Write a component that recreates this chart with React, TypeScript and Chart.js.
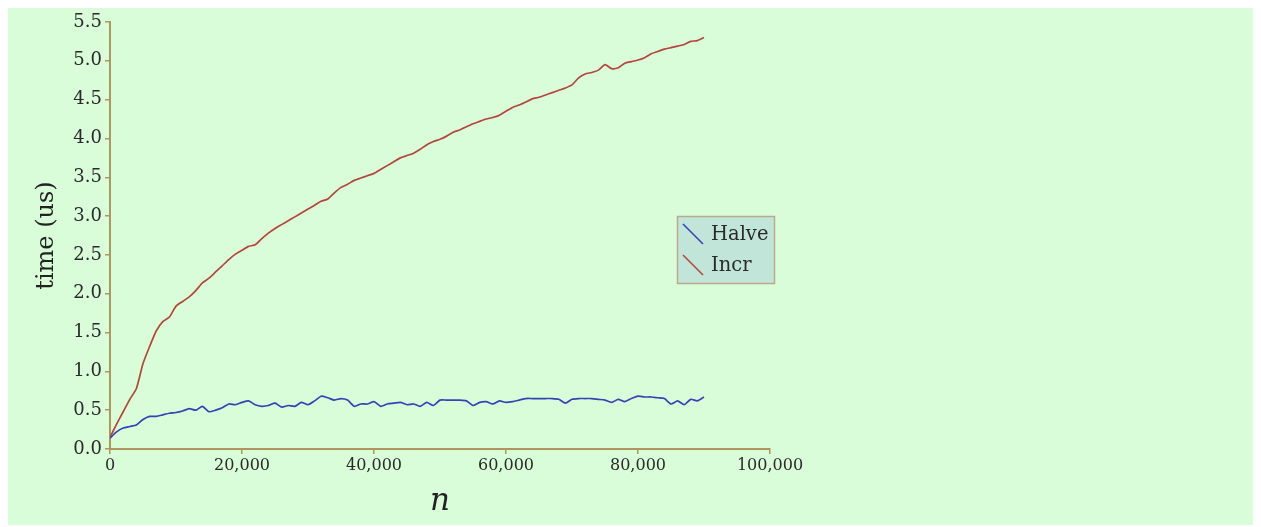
import React, { useEffect, useRef } from "react";
import { Chart, registerables } from "chart.js";

Chart.register(...registerables);

const nValues: number[] = [
  0, 1000, 2000, 3000, 4000, 5000, 6000, 7000, 8000, 9000,
  10000, 11000, 12000, 13000, 14000, 15000, 16000, 17000, 18000, 19000,
  20000, 21000, 22000, 23000, 24000, 25000, 26000, 27000, 28000, 29000,
  30000, 31000, 32000, 33000, 34000, 35000, 36000, 37000, 38000, 39000,
  40000, 41000, 42000, 43000, 44000, 45000, 46000, 47000, 48000, 49000,
  50000, 51000, 52000, 53000, 54000, 55000, 56000, 57000, 58000, 59000,
  60000, 61000, 62000, 63000, 64000, 65000, 66000, 67000, 68000, 69000,
  70000, 71000, 72000, 73000, 74000, 75000, 76000, 77000, 78000, 79000,
  80000, 81000, 82000, 83000, 84000, 85000, 86000, 87000, 88000, 89000,
  90000,
];

const halveTimes: number[] = [
  0.14, 0.22, 0.27, 0.29, 0.31, 0.38, 0.42, 0.42, 0.44, 0.46,
  0.47, 0.49, 0.52, 0.50, 0.55, 0.48, 0.50, 0.53, 0.58, 0.57,
  0.60, 0.62, 0.57, 0.55, 0.56, 0.59, 0.54, 0.56, 0.55, 0.60,
  0.57, 0.62, 0.68, 0.66, 0.63, 0.65, 0.63, 0.55, 0.58, 0.58,
  0.61, 0.55, 0.58, 0.59, 0.60, 0.57, 0.58, 0.55, 0.60, 0.56,
  0.63, 0.63, 0.63, 0.63, 0.62, 0.56, 0.60, 0.61, 0.58, 0.62,
  0.60, 0.61, 0.63, 0.65, 0.65, 0.65, 0.65, 0.65, 0.64, 0.59,
  0.64, 0.65, 0.65, 0.65, 0.64, 0.63, 0.60, 0.64, 0.61, 0.65,
  0.68, 0.67, 0.67, 0.66, 0.65, 0.58, 0.62, 0.57, 0.64, 0.62,
  0.67,
];

const incrTimes: number[] = [
  0.15, 0.32, 0.48, 0.64, 0.78, 1.10, 1.32, 1.52, 1.64, 1.70,
  1.84, 1.90, 1.96, 2.04, 2.14, 2.20, 2.28, 2.36, 2.44, 2.51,
  2.56, 2.61, 2.63, 2.71, 2.78, 2.84, 2.89, 2.94, 2.99, 3.04,
  3.09, 3.14, 3.19, 3.22, 3.30, 3.37, 3.41, 3.46, 3.49, 3.52,
  3.55, 3.60, 3.65, 3.70, 3.75, 3.78, 3.81, 3.86, 3.92, 3.96,
  3.99, 4.03, 4.08, 4.11, 4.15, 4.19, 4.22, 4.25, 4.27, 4.30,
  4.35, 4.40, 4.43, 4.47, 4.51, 4.53, 4.56, 4.59, 4.62, 4.65,
  4.69, 4.78, 4.83, 4.85, 4.88, 4.95, 4.90, 4.91, 4.97, 4.99,
  5.01, 5.04, 5.09, 5.12, 5.15, 5.17, 5.19, 5.21, 5.25, 5.26,
  5.30,
];

const seriesNames: string[] = ["Halve", "Incr"];
const seriesColors: string[] = ["#3444b4", "#b4463c"];
const xAxisTitle = "n";
const yAxisTitle = "time (us)";

const BG = "#d9fdd9";
const AXIS = "#b0955c";
const TEXT = "#2a2a2a";
const FONT = "'DejaVu Serif', serif";

const bgPlugin = {
  id: "bgFill",
  beforeDraw(chart: any) {
    const { ctx, width, height } = chart;
    ctx.save();
    ctx.fillStyle = BG;
    ctx.fillRect(0, 0, width, height);
    ctx.restore();
  },
};

const legendPlugin = {
  id: "boxLegend",
  afterDraw(chart: any) {
    const { ctx } = chart;
    const x = 669.5;
    const y = 208.5;
    const w = 97;
    const h = 67;
    ctx.save();
    ctx.fillStyle = "#c2e5da";
    ctx.strokeStyle = "#bca88c";
    ctx.lineWidth = 1.5;
    ctx.fillRect(x, y, w, h);
    ctx.strokeRect(x, y, w, h);
    ctx.font = "19.5px " + FONT;
    ctx.textBaseline = "middle";
    ctx.textAlign = "left";
    seriesNames.forEach((name, i) => {
      const cy = 227 + i * 31;
      ctx.strokeStyle = seriesColors[i];
      ctx.lineWidth = 1.6;
      ctx.beginPath();
      ctx.moveTo(675, cy - 11);
      ctx.lineTo(695, cy + 9);
      ctx.stroke();
      ctx.fillStyle = TEXT;
      ctx.fillText(name, 703, cy);
    });
    ctx.restore();
  },
};

export default function App() {
  const canvasRef = useRef<HTMLCanvasElement | null>(null);

  useEffect(() => {
    if (!canvasRef.current) return;
    const chart = new Chart(canvasRef.current, {
      type: "line",
      data: {
        labels: nValues,
        datasets: [
          {
            label: seriesNames[0],
            data: nValues.map((n, i) => ({ x: n, y: halveTimes[i] })),
            borderColor: seriesColors[0],
            borderWidth: 1.7,
            pointRadius: 0,
            fill: false,
            tension: 0.2,
          },
          {
            label: seriesNames[1],
            data: nValues.map((n, i) => ({ x: n, y: incrTimes[i] })),
            borderColor: seriesColors[1],
            borderWidth: 1.7,
            pointRadius: 0,
            fill: false,
            tension: 0.2,
          },
        ],
      },
      options: {
        animation: false,
        responsive: true,
        maintainAspectRatio: false,
        layout: { padding: { left: 0, top: 14, right: 483, bottom: 0 } },
        plugins: {
          legend: { display: false },
          tooltip: { enabled: false },
        },
        scales: {
          x: {
            type: "linear",
            min: 0,
            max: 100000,
            afterFit: (scale: any) => {
              scale.height = 76;
            },
            ticks: {
              stepSize: 20000,
              color: TEXT,
              font: { family: FONT, size: 16 },
              padding: 2,
              maxRotation: 0,
              callback: (v: any) => Number(v).toLocaleString("en-US"),
            },
            grid: {
              display: true,
              drawOnChartArea: false,
              drawTicks: true,
              tickLength: 5,
              color: AXIS,
              lineWidth: 1.5,
            },
            border: { display: true, color: AXIS, width: 2 },
            title: {
              display: true,
              text: xAxisTitle,
              color: "#222",
              font: { family: FONT, size: 31, style: "italic" },
              padding: { top: 0, bottom: 4 },
            },
          },
          y: {
            type: "linear",
            min: 0,
            max: 5.5,
            afterFit: (scale: any) => {
              scale.width = 102;
            },
            ticks: {
              stepSize: 0.5,
              color: TEXT,
              font: { family: FONT, size: 18 },
              padding: 3,
              callback: (v: any) => Number(v).toFixed(1),
            },
            grid: {
              display: true,
              drawOnChartArea: false,
              drawTicks: true,
              tickLength: 5,
              color: AXIS,
              lineWidth: 1.5,
            },
            border: { display: true, color: AXIS, width: 2 },
            title: {
              display: true,
              text: yAxisTitle,
              color: "#222",
              font: { family: FONT, size: 24 },
              padding: { top: 24, bottom: 0 },
            },
          },
        },
      },
      plugins: [bgPlugin, legendPlugin],
    });
    return () => chart.destroy();
  }, []);

  return (
    <div style={{ position: "relative", width: 1245, height: 517 }}>
      <canvas ref={canvasRef} />
    </div>
  );
}
